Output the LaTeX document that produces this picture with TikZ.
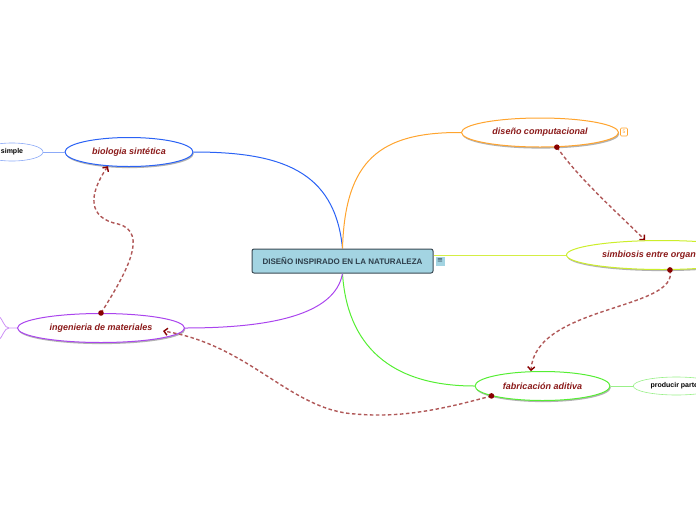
\documentclass[tikz,border=0pt]{standalone}
\usepackage{fontspec}
\setmainfont{Liberation Sans}
\newfontfamily\symfont{DejaVu Sans}
\usepackage{xcolor}
\usepackage{tikz}
\usetikzlibrary{arrows.meta, shapes.geometric, shadows}

\definecolor{rootfill}{HTML}{A3D4E2}
\definecolor{rootline}{HTML}{3B4A54}
\definecolor{roottext}{HTML}{2D3E4B}
\definecolor{topictext}{HTML}{8B1A1A}
\definecolor{bioblue}{HTML}{2A62F5}
\definecolor{leafblue}{HTML}{8CAAF8}
\definecolor{compnaranja}{HTML}{FFA42E}
\definecolor{simbyellow}{HTML}{CCEE2A}
\definecolor{simbline}{HTML}{D4EE44}
\definecolor{fabgreen}{HTML}{55EE33}
\definecolor{leafgreen}{HTML}{99F088}
\definecolor{ingpurple}{HTML}{AA44EE}
\definecolor{stubpurple}{HTML}{CC90F5}
\definecolor{relred}{HTML}{B05858}
\definecolor{dotred}{HTML}{880000}

\begin{document}
\begin{tikzpicture}[
    x=1pt, y=-1pt,
    root/.style={rectangle, draw=rootline, fill=rootfill, rounded corners=2pt, line width=1pt, minimum width=181pt, minimum height=24pt, font=\bfseries\fontsize{8}{9}\selectfont, text=roottext},
    topic/.style={ellipse, fill=white, line width=1pt, minimum height=29pt, inner sep=0pt, font=\bfseries\itshape\fontsize{9}{10}\selectfont, text=topictext, drop shadow={shadow xshift=0.8pt, shadow yshift=-1.6pt, fill=black, opacity=0.3}},
    leaf/.style={ellipse, fill=white, line width=0.6pt, minimum height=18pt, inner sep=0pt, font=\bfseries\fontsize{7}{8}\selectfont},
    branch/.style={line width=1pt},
    rel/.style={draw=relred, line width=1.4pt, dash pattern=on 3.5pt off 2.5pt, -{Straight Barb[length=3.5pt, width=7pt, color=dotred]}},
    reldot/.style={fill=dotred}
]
\useasboundingbox (0,0) rectangle (696,520);

\node[root] (root) at (342.5,261) {DISEÑO INSPIRADO EN LA NATURALEZA};
\node[rectangle, fill=rootfill, inner sep=0pt, minimum size=9pt, font=\symfont\fontsize{7}{7}\selectfont, text=roottext] (rootnote) at (440,261) {≡};

\node[topic, draw=bioblue, minimum width=128pt] (bio) at (129,152) {biologia sintética};
\node[topic, draw=compnaranja, minimum width=157pt] (comp) at (540,132.5) {diseño computacional};
\node[topic, draw=simbyellow, minimum width=191pt] (simb) at (662,255) {simbiosis entre organismos};
\node[topic, draw=fabgreen, minimum width=135pt] (fab) at (542.5,386) {fabricación aditiva};
\node[topic, draw=ingpurple, minimum width=167pt] (ing) at (101,328) {ingenieria de materiales};

\node[rectangle, draw=compnaranja, rounded corners=1pt, line width=0.6pt, inner sep=0pt, minimum width=7pt, minimum height=8pt, font=\fontsize{5}{5}\selectfont, text=compnaranja] (compnum) at (624,132) {5};

\node[leaf, draw=leafblue, minimum width=62pt] (simple) at (12,152) {simple};
\node[leaf, draw=leafgreen, minimum width=86pt, anchor=west] (prod) at (633,386) {producir partes};

\coordinate (ingfork) at (9,328);
\coordinate (ingup) at (-2,315);
\coordinate (ingdown) at (-2,341);

\draw[branch, bioblue] (root.north) .. controls (335,170) and (280,152) .. (bio.east);
\draw[branch, compnaranja] (root.north) .. controls (345,160) and (380,132) .. (comp.west);
\draw[branch, simbline] ([yshift=6pt]root.east) -- (simb.west);
\draw[branch, fabgreen] (root.south) .. controls (347,345) and (390,386) .. (fab.west);
\draw[branch, ingpurple] (root.south) .. controls (335,315) and (270,328) .. (ing.east);

\draw[leafblue, line width=0.8pt] (simple.east) -- (bio.west);
\draw[leafgreen, line width=0.8pt] (fab.east) -- (prod.west);
\draw[stubpurple, line width=0.8pt] (ing.west) -- (ingfork) .. controls (4,328) and (3,319) .. (ingup);
\draw[stubpurple, line width=0.8pt] (ingfork) .. controls (4,328) and (3,337) .. (ingdown);

\draw[rel] (ing.north) .. controls (125,275) and (150,232) .. (118,224) .. controls (88,218) and (88,195) .. (bio.214);
\draw[rel] (comp.-41) .. controls (580,180) and (620,215) .. (simb.139);
\draw[rel] (simb.-62) .. controls (680,310) and (535,305) .. (fab.128);
\draw[rel] (fab.191) .. controls (440,410) and (400,418) .. (355,414) .. controls (290,410) and (250,345) .. ([xshift=-22pt,yshift=-3pt]ing.east);

\fill[reldot] (ing.north) circle (2.8pt);
\fill[reldot] (comp.-41) circle (2.8pt);
\fill[reldot] (simb.-62) circle (2.8pt);
\fill[reldot] (fab.191) circle (2.8pt);

\end{tikzpicture}
\end{document}
